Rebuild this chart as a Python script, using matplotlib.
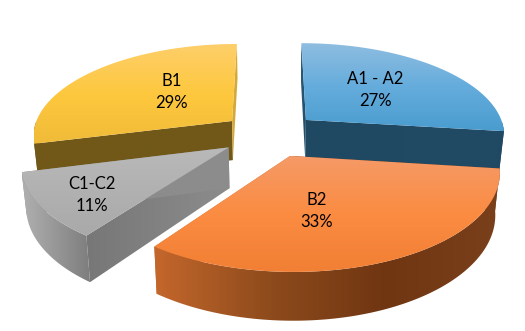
import numpy as np
import matplotlib
matplotlib.use('Agg')
import matplotlib.pyplot as plt
from matplotlib.colors import LinearSegmentedColormap
from matplotlib.patches import Polygon

categories = ['A1 - A2', 'B2', 'C1-C2', 'B1']
values = [27, 33, 11, 29]
percent_labels = ['27%', '33%', '11%', '29%']

plt.rcParams['font.family'] = ['Lato', 'DejaVu Sans']

# projection of the tilted pie, fitted by eye to the picture (pixels)
CX, CY = 270, 134.5
SCALE_X, SCALE_Y = 200, 92
PERSP = 0.147
EXPLODE = 0.245
THICK = 40
SHRINK = 0.98


def project(x, y, bottom=False):
    s = 1 / (1 + PERSP * y)
    px = SCALE_X * x * s
    py = -SCALE_Y * y * s
    if bottom:
        return CX + px * SHRINK, CY + py + THICK * s
    return CX + px, CY + py


def gradient(ax, pts, stops, vertical, z):
    # fill a polygon with a linear gradient, clipped to its outline
    pts = np.array(pts)
    x0, y0 = pts.min(axis=0)
    x1, y1 = pts.max(axis=0)
    cmap = LinearSegmentedColormap.from_list('g', stops)
    ramp = np.linspace(0, 1, 256)
    ramp = ramp[:, None] if vertical else ramp[None, :]
    im = ax.imshow(ramp, cmap=cmap, extent=(x0, x1, y1, y0), aspect='auto',
                   origin='upper', zorder=z, vmin=0, vmax=1)
    clip = Polygon(pts, closed=True, transform=ax.transData, fill=False, lw=0)
    ax.add_patch(clip)
    im.set_clip_path(clip)


def draw_slice(ax, start, end, style, z):
    mid = np.radians((start + end) / 2)
    ex, ey = EXPLODE * np.sin(mid), EXPLODE * np.cos(mid)
    t = np.radians(np.linspace(start, end, 120))
    wx, wy = ex + np.sin(t), ey + np.cos(t)

    top = list(zip(*project(wx, wy)))
    bot = list(zip(*project(wx, wy, bottom=True)))
    apex_t = project(ex, ey)
    apex_b = project(ex, ey, bottom=True)

    # the two cut faces
    for i, (edge_t, edge_b) in enumerate([(top[0], bot[0]), (top[-1], bot[-1])]):
        gradient(ax, [apex_t, edge_t, edge_b, apex_b], style['cut'][i], False, z)
    # outer rim, only the part that faces the viewer
    front = np.cos(t) < 0
    if front.sum() > 1:
        rim_t = [p for p, f in zip(top, front) if f]
        rim_b = [p for p, f in zip(bot, front) if f]
        gradient(ax, rim_t + rim_b[::-1], style['rim'], False, z + 0.1)
    # upper face
    gradient(ax, [apex_t] + top, style['top'], True, z + 0.2)


styles = {
    'A1 - A2': {
        'top': ['#8fbde0', '#64acdc', '#4a9ccf'],
        'rim': ['#1f4862', '#214a64'],
        'cut': [['#2c5a78', '#214a64'], ['#1f4862', '#214a64']],
    },
    'B2': {
        'top': ['#f59a68', '#fb8c42', '#f17f34'],
        'rim': ['#c4672c', '#8e4b1c', '#703612', '#7a401c'],
        'cut': [['#7a401c', '#7a401c'], ['#c4672c', '#c4672c']],
    },
    'C1-C2': {
        'top': ['#b9b9b9', '#a9a9a9'],
        'rim': ['#b0b0b0', '#7d7d7d'],
        'cut': [['#777777', '#8c8c8c'], ['#8c8c8c', '#8c8c8c']],
    },
    'B1': {
        'top': ['#fdcf6a', '#fec83e', '#f0bb38'],
        'rim': ['#70581a', '#70581a'],
        'cut': [['#715818', '#715818'], ['#d4a93a', '#d4a93a']],
    },
}

# back slices first so the front ones sit on top
draw_order = ['A1 - A2', 'B1', 'C1-C2', 'B2']
label_xy = {'A1 - A2': (375, 90), 'B2': (317, 211), 'C1-C2': (92, 195), 'B1': (172, 92)}

fig = plt.figure(figsize=(5.25, 3.31), dpi=100)
ax = fig.add_axes([0, 0, 1, 1])

edges = np.cumsum([0] + values) / sum(values) * 360
for n, name in enumerate(draw_order):
    i = categories.index(name)
    draw_slice(ax, edges[i], edges[i + 1], styles[name], 2 + n)

for name, pct in zip(categories, percent_labels):
    x, y = label_xy[name]
    ax.text(x, y, name + '\n' + pct, ha='center', va='center', fontsize=12,
            color='black', linespacing=1.42, zorder=20)

ax.set_xlim(0, 525)
ax.set_ylim(331, 0)
ax.axis('off')
fig.savefig('out.png', dpi=100, facecolor='white')
